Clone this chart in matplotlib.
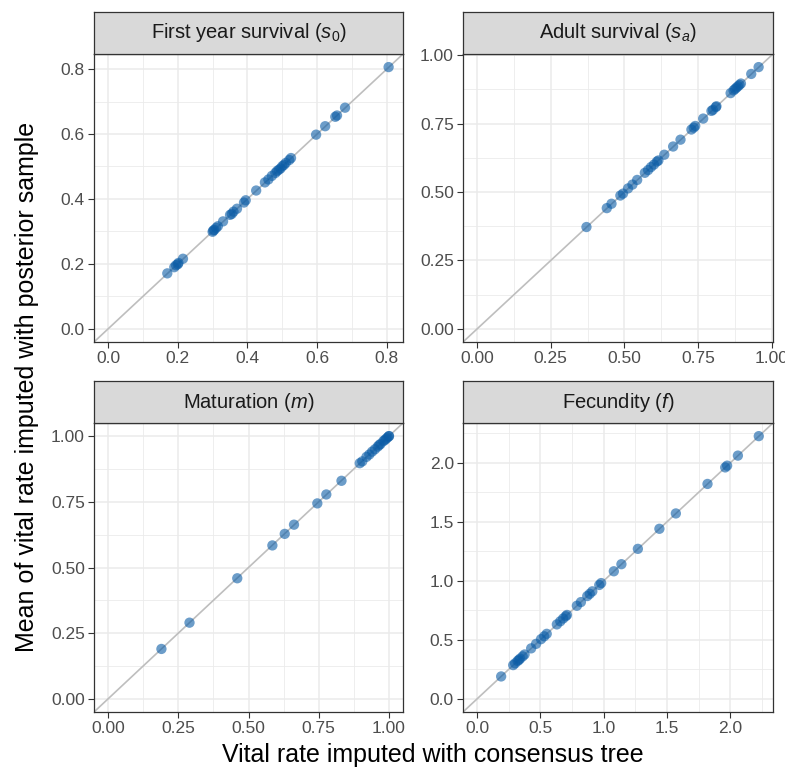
import matplotlib
matplotlib.use("Agg")
import matplotlib.pyplot as plt
import numpy as np

plt.rcParams['font.family'] = ['Liberation Sans', 'DejaVu Sans']
plt.rcParams['mathtext.fontset'] = 'custom'
plt.rcParams['mathtext.rm'] = 'Liberation Sans'
plt.rcParams['mathtext.it'] = 'Liberation Sans:italic'

# panel titles
titles = ["First year survival ($s_0$)", "Adult survival ($s_a$)",
          "Maturation ($m$)", "Fecundity ($f$)"]

# first year survival
s0_consensus = [0.17, 0.19, 0.195, 0.20, 0.202, 0.215, 0.30, 0.302, 0.305, 0.31, 0.315, 0.33,
                0.35, 0.355, 0.36, 0.37, 0.39, 0.395, 0.425, 0.45, 0.46, 0.47, 0.48, 0.485,
                0.49, 0.495, 0.50, 0.505, 0.51, 0.52, 0.525, 0.597, 0.623, 0.652, 0.657, 0.68, 0.805]
s0_posterior = [0.171, 0.19, 0.196, 0.199, 0.203, 0.216, 0.299, 0.303, 0.305, 0.311, 0.316, 0.331,
                0.351, 0.354, 0.361, 0.37, 0.389, 0.396, 0.426, 0.451, 0.46, 0.471, 0.48, 0.486,
                0.49, 0.494, 0.501, 0.505, 0.511, 0.52, 0.526, 0.598, 0.624, 0.653, 0.657, 0.681, 0.806]

# adult survival
sa_consensus = [0.371, 0.44, 0.456, 0.486, 0.495, 0.512, 0.527, 0.543, 0.569, 0.58, 0.59, 0.60,
                0.61, 0.615, 0.635, 0.665, 0.69, 0.727, 0.735, 0.74, 0.767, 0.795, 0.80, 0.81,
                0.812, 0.86, 0.87, 0.875, 0.88, 0.885, 0.89, 0.895, 0.93, 0.955]
sa_posterior = [0.372, 0.441, 0.457, 0.487, 0.494, 0.513, 0.527, 0.544, 0.57, 0.58, 0.591, 0.60,
                0.611, 0.615, 0.636, 0.666, 0.691, 0.728, 0.735, 0.741, 0.768, 0.796, 0.80, 0.81,
                0.813, 0.861, 0.871, 0.876, 0.881, 0.886, 0.891, 0.896, 0.931, 0.956]

# maturation
m_consensus = [0.19, 0.29, 0.46, 0.585, 0.629, 0.662, 0.745, 0.777, 0.831, 0.896, 0.905,
               0.92, 0.93, 0.94, 0.95, 0.96, 0.965, 0.97, 0.98, 0.985, 0.99, 0.995, 1.0, 1.0]
m_posterior = [0.19, 0.29, 0.459, 0.584, 0.628, 0.663, 0.744, 0.778, 0.83, 0.897, 0.904,
               0.921, 0.93, 0.941, 0.95, 0.96, 0.966, 0.97, 0.981, 0.985, 0.99, 0.995, 1.0, 1.0]

# fecundity
f_consensus = [0.19, 0.285, 0.30, 0.32, 0.33, 0.34, 0.36, 0.375, 0.427, 0.466, 0.505, 0.53,
               0.55, 0.63, 0.657, 0.68, 0.70, 0.71, 0.788, 0.82, 0.87, 0.89, 0.91, 0.965,
               0.98, 1.08, 1.14, 1.27, 1.44, 1.57, 1.82, 1.96, 1.975, 2.06, 2.225]
f_posterior = [0.19, 0.286, 0.301, 0.321, 0.33, 0.341, 0.36, 0.376, 0.428, 0.466, 0.506, 0.53,
               0.551, 0.631, 0.657, 0.681, 0.70, 0.711, 0.789, 0.82, 0.871, 0.89, 0.911, 0.965,
               0.981, 1.081, 1.141, 1.271, 1.441, 1.571, 1.821, 1.961, 1.976, 2.061, 2.226]

xs = [s0_consensus, sa_consensus, m_consensus, f_consensus]
ys = [s0_posterior, sa_posterior, m_posterior, f_posterior]
major = [[0.0, 0.2, 0.4, 0.6, 0.8], [0.0, 0.25, 0.5, 0.75, 1.0],
         [0.0, 0.25, 0.5, 0.75, 1.0], [0.0, 0.5, 1.0, 1.5, 2.0]]
labels = [["0.0", "0.2", "0.4", "0.6", "0.8"], ["0.00", "0.25", "0.50", "0.75", "1.00"],
          ["0.00", "0.25", "0.50", "0.75", "1.00"], ["0.0", "0.5", "1.0", "1.5", "2.0"]]

W, H = 785, 769
fig = plt.figure(figsize=(W / 100, H / 100), dpi=100)

def box(x0, y0, x1, y1):
    return [x0 / W, 1 - y1 / H, (x1 - x0) / W, (y1 - y0) / H]

cols = [(94, 403), (463, 773)]
rows = [(12, 54, 342), (381, 423, 712)]
border = '#333333'
grid = '#ebebeb'

for i in range(4):
    c0, c1 = cols[i % 2]
    s0, p0, p1 = rows[i // 2]
    ax = fig.add_axes(box(c0, p0, c1, p1))
    t = major[i]
    step = t[1] - t[0]
    minor = [v + step / 2 for v in t] + [t[0] - step / 2]
    ax.set_xticks(t)
    ax.set_yticks(t)
    ax.set_xticks(minor, minor=True)
    ax.set_yticks(minor, minor=True)
    ax.set_xticklabels(labels[i])
    ax.set_yticklabels(labels[i])
    hi = max(max(xs[i]), max(ys[i]))
    pad = 0.05 * hi
    ax.set_xlim(-pad, hi + pad)
    ax.set_ylim(-pad, hi + pad)
    ax.grid(True, which='major', color=grid, lw=1.1, zorder=0)
    ax.grid(True, which='minor', color=grid, lw=0.6, zorder=0)
    ax.tick_params(which='minor', length=0)
    ax.tick_params(which='major', length=4, width=0.8, color=border,
                   labelsize=12.5, labelcolor='#4d4d4d', pad=2.5)
    ax.set_axisbelow(True)
    ax.plot([-10, 10], [-10, 10], color='#bebebe', lw=1.2, zorder=1)
    ax.scatter(xs[i], ys[i], s=55, color='#0b5ca6', alpha=0.6, edgecolors='none', zorder=2)
    for sp in ax.spines.values():
        sp.set_color(border)
        sp.set_linewidth(0.9)

    st = fig.add_axes(box(c0, s0, c1, p0))
    st.set_facecolor('#d9d9d9')
    st.set_xticks([])
    st.set_yticks([])
    for sp in st.spines.values():
        sp.set_color(border)
        sp.set_linewidth(0.9)
    st.text(0.5, 0.5, titles[i], ha='center', va='center', fontsize=14.5,
            color='#1a1a1a', transform=st.transAxes)

fig.text(433 / W, 1 - 762 / H, "Vital rate imputed with consensus tree",
         ha='center', va='baseline', fontsize=18)
fig.text(27 / W, 1 - 387 / H, "Mean of vital rate imputed with posterior sample",
         ha='center', va='center', rotation=90, fontsize=18)

fig.savefig("out.png", dpi=100)
